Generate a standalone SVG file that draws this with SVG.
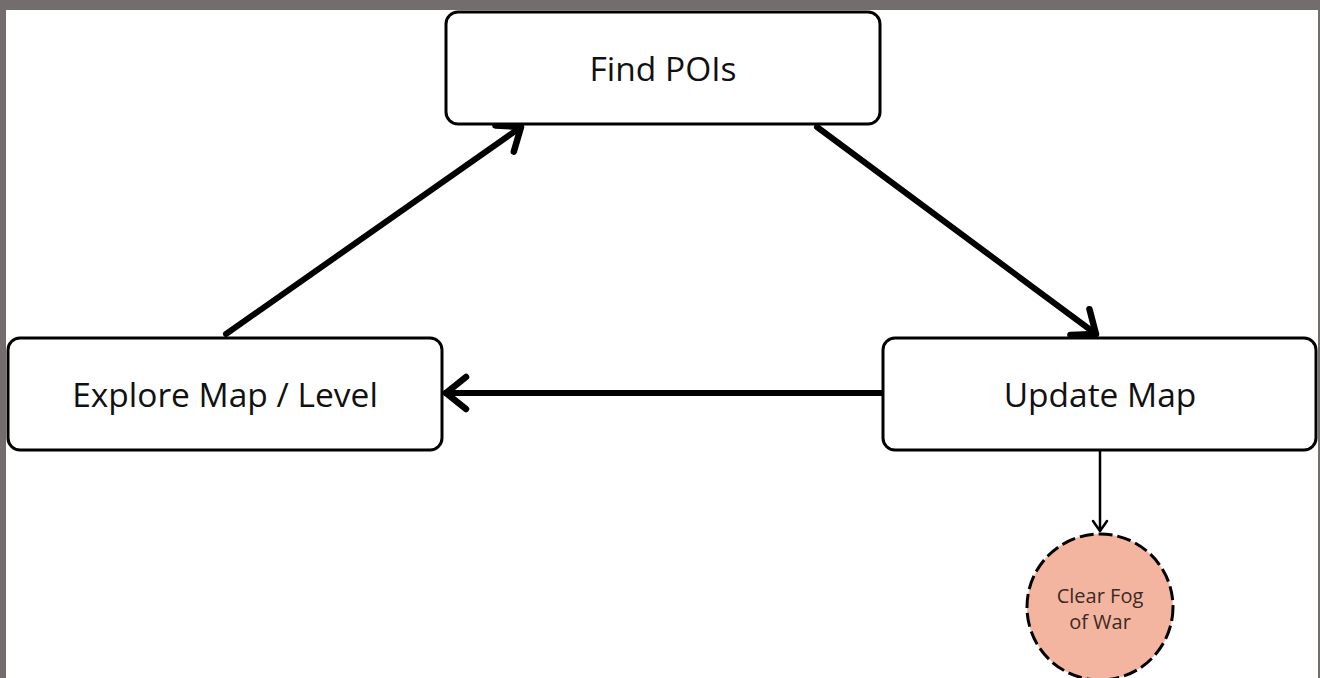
<svg xmlns="http://www.w3.org/2000/svg" width="1320" height="678" viewBox="0 0 1320 678">
<defs>
<style>
.box{fill:#ffffff;stroke:#000000;stroke-width:3}
.lbl{font-family:"Open Sans","Noto Sans",sans-serif;font-size:33.5px;fill:#111111;text-anchor:middle}
.small{font-family:"Open Sans","Noto Sans",sans-serif;font-size:20px;fill:#3b2a25;text-anchor:middle}
.edge{fill:none;stroke:#000000;stroke-width:6;stroke-linecap:round}
.edge2{fill:none;stroke:#000000;stroke-width:2.5}
</style>
<marker id="ah" markerUnits="userSpaceOnUse" viewBox="-30 -20 34 40" refX="0" refY="0" markerWidth="34" markerHeight="40" orient="auto">
<path d="M-20,-16 L0,0 L-20,16" fill="none" stroke="#000" stroke-width="6.5" stroke-linecap="round" stroke-linejoin="round"/>
</marker>
<marker id="ah2" markerUnits="userSpaceOnUse" viewBox="-16 -10 18 20" refX="0" refY="0" markerWidth="18" markerHeight="20" orient="auto">
<path d="M-10,-7 L0,0 L-10,7" fill="none" stroke="#000" stroke-width="2.5" stroke-linecap="round" stroke-linejoin="round"/>
</marker>
</defs>
<rect x="0" y="0" width="1320" height="678" fill="#736e6d"/>
<rect x="6" y="10" width="1312" height="668" fill="#ffffff"/>
<g id="connectors">
<line class="edge" x1="226" y1="334" x2="521" y2="127" marker-end="url(#ah)"/>
<line class="edge" x1="817" y1="127" x2="1096" y2="334" marker-end="url(#ah)"/>
<line class="edge" x1="881" y1="393" x2="446" y2="393" marker-end="url(#ah)"/>
<line class="edge2" x1="1100" y1="451" x2="1100" y2="531" marker-end="url(#ah2)"/>
</g>
<g id="find-pois">
<rect class="box" x="446" y="12" width="434" height="112" rx="12"/>
<text class="lbl" x="663" y="81">Find POIs</text>
</g>
<g id="explore-map">
<rect class="box" x="8" y="338" width="434" height="112" rx="12"/>
<text class="lbl" x="225" y="407">Explore Map / Level</text>
</g>
<g id="update-map">
<rect class="box" x="883" y="338" width="433" height="112" rx="12"/>
<text class="lbl" x="1100" y="407">Update Map</text>
</g>
<g id="clear-fog">
<circle cx="1100" cy="607" r="73" fill="#f4b5a0" stroke="#000" stroke-width="3" stroke-dasharray="14 5"/>
<text class="small" x="1100" y="603">Clear Fog</text>
<text class="small" x="1100" y="629">of War</text>
</g>
</svg>
